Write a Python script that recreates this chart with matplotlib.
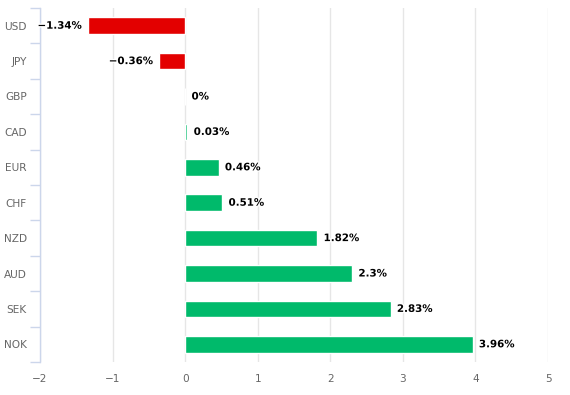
import matplotlib.pyplot as plt
import matplotlib.patheffects as pe
import numpy as np

currencies = ["USD", "JPY", "GBP", "CAD", "EUR", "CHF", "NZD", "AUD", "SEK", "NOK"]
changes = [-1.34, -0.36, 0.0, 0.03, 0.46, 0.51, 1.82, 2.3, 2.83, 3.96]
xticks = [-2, -1, 0, 1, 2, 3, 4, 5]

red = "#e30000"
green = "#00ba6b"

fig = plt.figure(figsize=(5.7, 3.95), dpi=100)
ax = fig.add_axes([40 / 570, 1 - 362 / 395, 508 / 570, 354 / 395])

y = np.arange(len(currencies))
colors = [red if v < 0 else green for v in changes]
ax.barh(y, changes, height=0.47, color=colors, edgecolor="white", linewidth=1, zorder=3)

outline = [pe.withStroke(linewidth=2, foreground="white")]
for yi, v in zip(y, changes):
    txt = "0%" if v == 0 else f"{v:g}%".replace("-", "\u2212")
    if v < 0:
        ax.annotate(txt, (v, yi), xytext=(-4.3, 0), textcoords="offset points",
                    ha="right", va="center", fontsize=7.4, fontweight="bold",
                    color="black", path_effects=outline, zorder=4)
    else:
        ax.annotate(txt, (v, yi), xytext=(4.6, 0), textcoords="offset points",
                    ha="left", va="center", fontsize=7.4, fontweight="bold",
                    color="black", path_effects=outline, zorder=4)

ax.set_xlim(-2, 5)
ax.set_ylim(len(currencies) - 0.5, -0.5)
ax.set_xticks(xticks)
ax.set_xticklabels([str(t).replace("-", "\u2212") for t in xticks])
ax.set_yticks(y)
ax.set_yticklabels(currencies)
ax.set_yticks(np.arange(-0.5, len(currencies)), minor=True)

ax.grid(axis="x", color="#e6e6e6", linewidth=1, zorder=0)
ax.set_axisbelow(True)

for s in ["top", "right", "bottom"]:
    ax.spines[s].set_visible(False)
ax.spines["left"].set_color("#ccd6eb")
ax.spines["left"].set_linewidth(1)

ax.tick_params(axis="y", which="major", length=0, pad=9.5, labelsize=7.6, labelcolor="#666666")
ax.tick_params(axis="y", which="minor", length=7.2, width=1, color="#ccd6eb")
ax.tick_params(axis="x", length=0, pad=8.5, labelsize=7.6, labelcolor="#666666")

fig.savefig("out.png", dpi=100)
